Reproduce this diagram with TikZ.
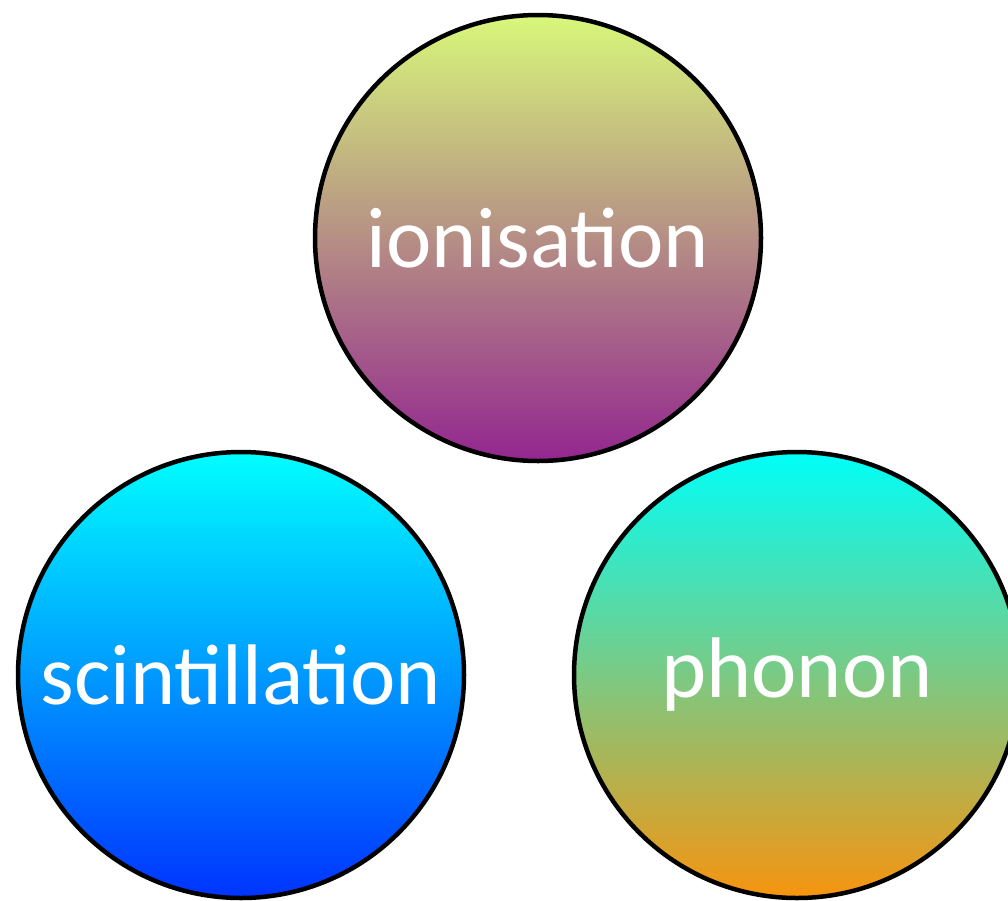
\documentclass[tikz,border=0pt]{standalone}
\usepackage{fontspec}
\setmainfont{Carlito}
\definecolor{ionTop}{HTML}{D8F87A}
\definecolor{ionBot}{HTML}{93268F}
\definecolor{sciTop}{HTML}{00FFFF}
\definecolor{sciBot}{HTML}{0033FF}
\definecolor{phoTop}{HTML}{00FFF8}
\definecolor{phoBot}{HTML}{F7940F}
\tikzset{
  blob/.style={circle, minimum size=446pt, inner sep=0pt, line width=4.5pt, draw=black,
     text=white, font=\fontsize{86}{96}\selectfont},
}
\begin{document}
\begin{tikzpicture}[x=1pt,y=-1pt]
\useasboundingbox (0,0) rectangle (1008,900);
\clip (0,0) rectangle (1008,900);
\node[blob, top color=ionTop, bottom color=ionBot] (ion) at (538,238) {ionisation};
\node[blob, top color=sciTop, bottom color=sciBot] (sci) at (241,675) {scintillation};
\node[blob, top color=phoTop, bottom color=phoBot] (pho) at (797,675) {phonon};
\end{tikzpicture}
\end{document}
